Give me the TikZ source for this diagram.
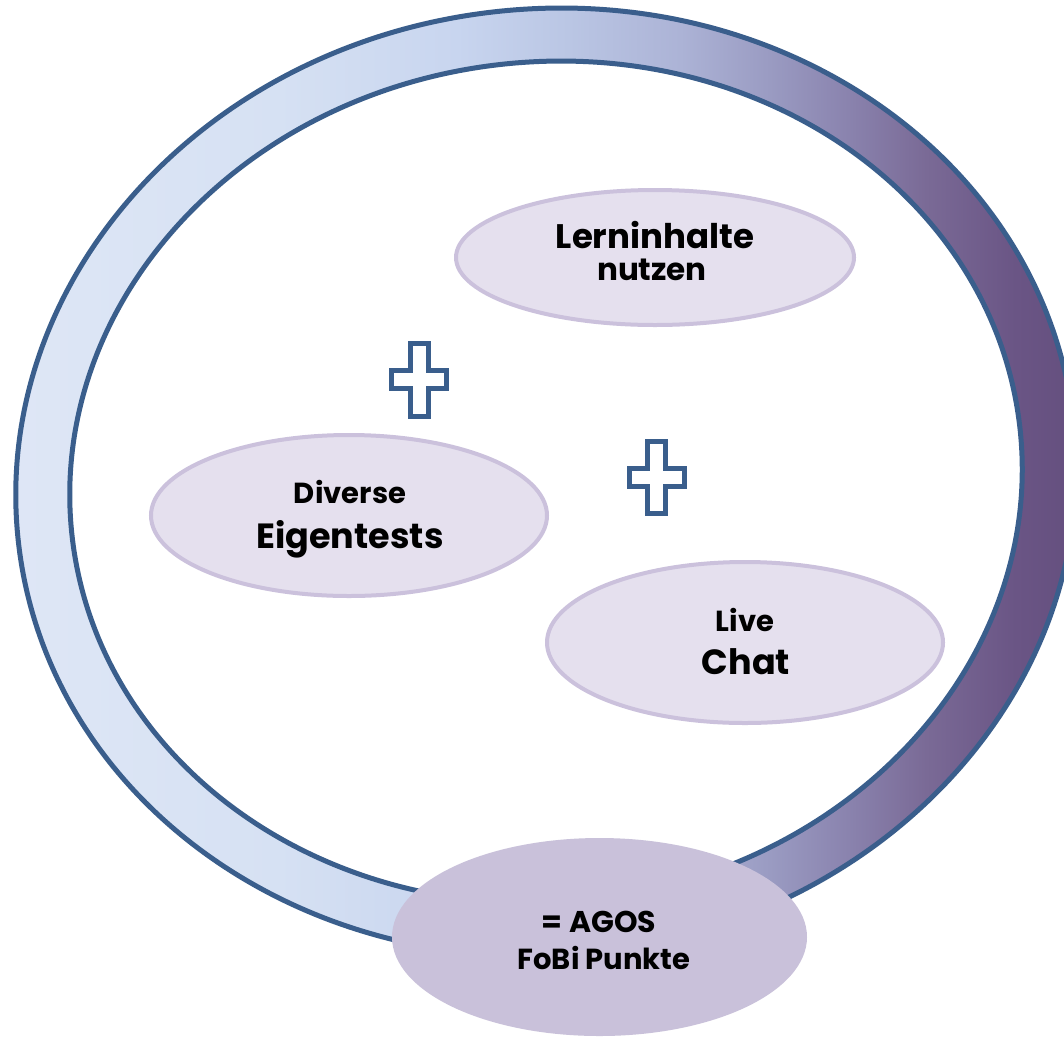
\documentclass[tikz,border=0pt]{standalone}
\usepackage{fontspec}
\setmainfont{Poppins}
\usetikzlibrary{shapes.geometric}
\definecolor{ringblue}{HTML}{3A5E8C}
\definecolor{bubblefill}{HTML}{E5E0EE}
\definecolor{bubbleline}{HTML}{CBC1DC}
\definecolor{agosfill}{HTML}{C9C1DA}
\definecolor{rA}{HTML}{DFE7F6}
\definecolor{rB}{HTML}{D6E1F3}
\definecolor{rC}{HTML}{C8D5EF}
\definecolor{rD}{HTML}{BAC6E4}
\definecolor{rE}{HTML}{ACB3D6}
\definecolor{rF}{HTML}{9A9BC2}
\definecolor{rG}{HTML}{8A83AE}
\definecolor{rH}{HTML}{7A6A96}
\definecolor{rI}{HTML}{6A5585}
\definecolor{rJ}{HTML}{624C7B}
\pgfdeclarehorizontalshading{ringshade}{100bp}{color(0bp)=(rA); color(25bp)=(rA); color(38bp)=(rB); color(46bp)=(rC); color(51bp)=(rD); color(56bp)=(rE); color(60bp)=(rF); color(63.5bp)=(rG); color(67bp)=(rH); color(71bp)=(rI); color(75bp)=(rJ); color(100bp)=(rJ)}
\tikzset{
  bubble/.style={ellipse, draw=bubbleline, fill=bubblefill, line width=4pt, inner sep=0pt},
  agos/.style={ellipse, fill=agosfill, inner sep=0pt},
  lbl/.style={inner sep=0pt, anchor=base, text=black, font=\bfseries},
  ringline/.style={draw=ringblue, line width=5pt},
  plusmark/.style={draw=ringblue, line width=5pt, fill=white, line join=miter}
}
\begin{document}
\begin{tikzpicture}[x=1pt,y=-1pt]
\fill[white] (0,0) rectangle (1064,1039);
\useasboundingbox (0,0) rectangle (1064,1039);
% ring
\shade[shading=ringshade, even odd rule, rotate around={7:(546,482)}]
  (546,482) ellipse [x radius=531, y radius=473]
  (546,482) ellipse [x radius=477, y radius=420];
\draw[ringline, rotate around={7:(546,482)}] (546,482) ellipse [x radius=531, y radius=473];
\draw[ringline, rotate around={7:(546,482)}] (546,482) ellipse [x radius=477, y radius=420];
% bubbles
\node[bubble, minimum width=398, minimum height=135] (lern) at (655,257.5) {};
\node[bubble, minimum width=396, minimum height=161] (eigen) at (349,515.5) {};
\node[bubble, minimum width=396, minimum height=161] (chat) at (745,642.5) {};
\node[agos, minimum width=415, minimum height=198] (punkte) at (599.5,937) {};
% plus signs
\draw[plusmark] (410.5,343.5) -- (428.5,343.5) -- (428.5,370.5) -- (446.5,370.5) -- (446.5,388.5) -- (428.5,388.5) -- (428.5,416.5) -- (410.5,416.5) -- (410.5,388.5) -- (391.5,388.5) -- (391.5,370.5) -- (410.5,370.5) -- cycle;
\draw[plusmark] (647.5,441.5) -- (665.5,441.5) -- (665.5,468.5) -- (684.5,468.5) -- (684.5,486.5) -- (665.5,486.5) -- (665.5,513.5) -- (647.5,513.5) -- (647.5,486.5) -- (629.5,486.5) -- (629.5,468.5) -- (647.5,468.5) -- cycle;
% labels
\node[lbl, font=\bfseries\fontsize{34}{34}\selectfont] (t1) at (655,248) {Lerninhalte};
\node[lbl, font=\bfseries\fontsize{31}{31}\selectfont] (t2) at (652,280) {nutzen};
\node[lbl, font=\bfseries\fontsize{29}{29}\selectfont] (t3) at (350,503) {Diverse};
\node[lbl, font=\bfseries\fontsize{35}{35}\selectfont] (t4) at (350,548) {Eigentests};
\node[lbl, font=\bfseries\fontsize{29}{29}\selectfont] (t5) at (745,631) {Live};
\node[lbl, font=\bfseries\fontsize{35}{35}\selectfont] (t6) at (746,674) {Chat};
\node[lbl, font=\bfseries\fontsize{30}{30}\selectfont] (t7) at (599,932) {= AGOS};
\node[lbl, font=\bfseries\fontsize{29}{29}\selectfont] (t8) at (604,969) {FoBi Punkte};
\end{tikzpicture}
\end{document}
